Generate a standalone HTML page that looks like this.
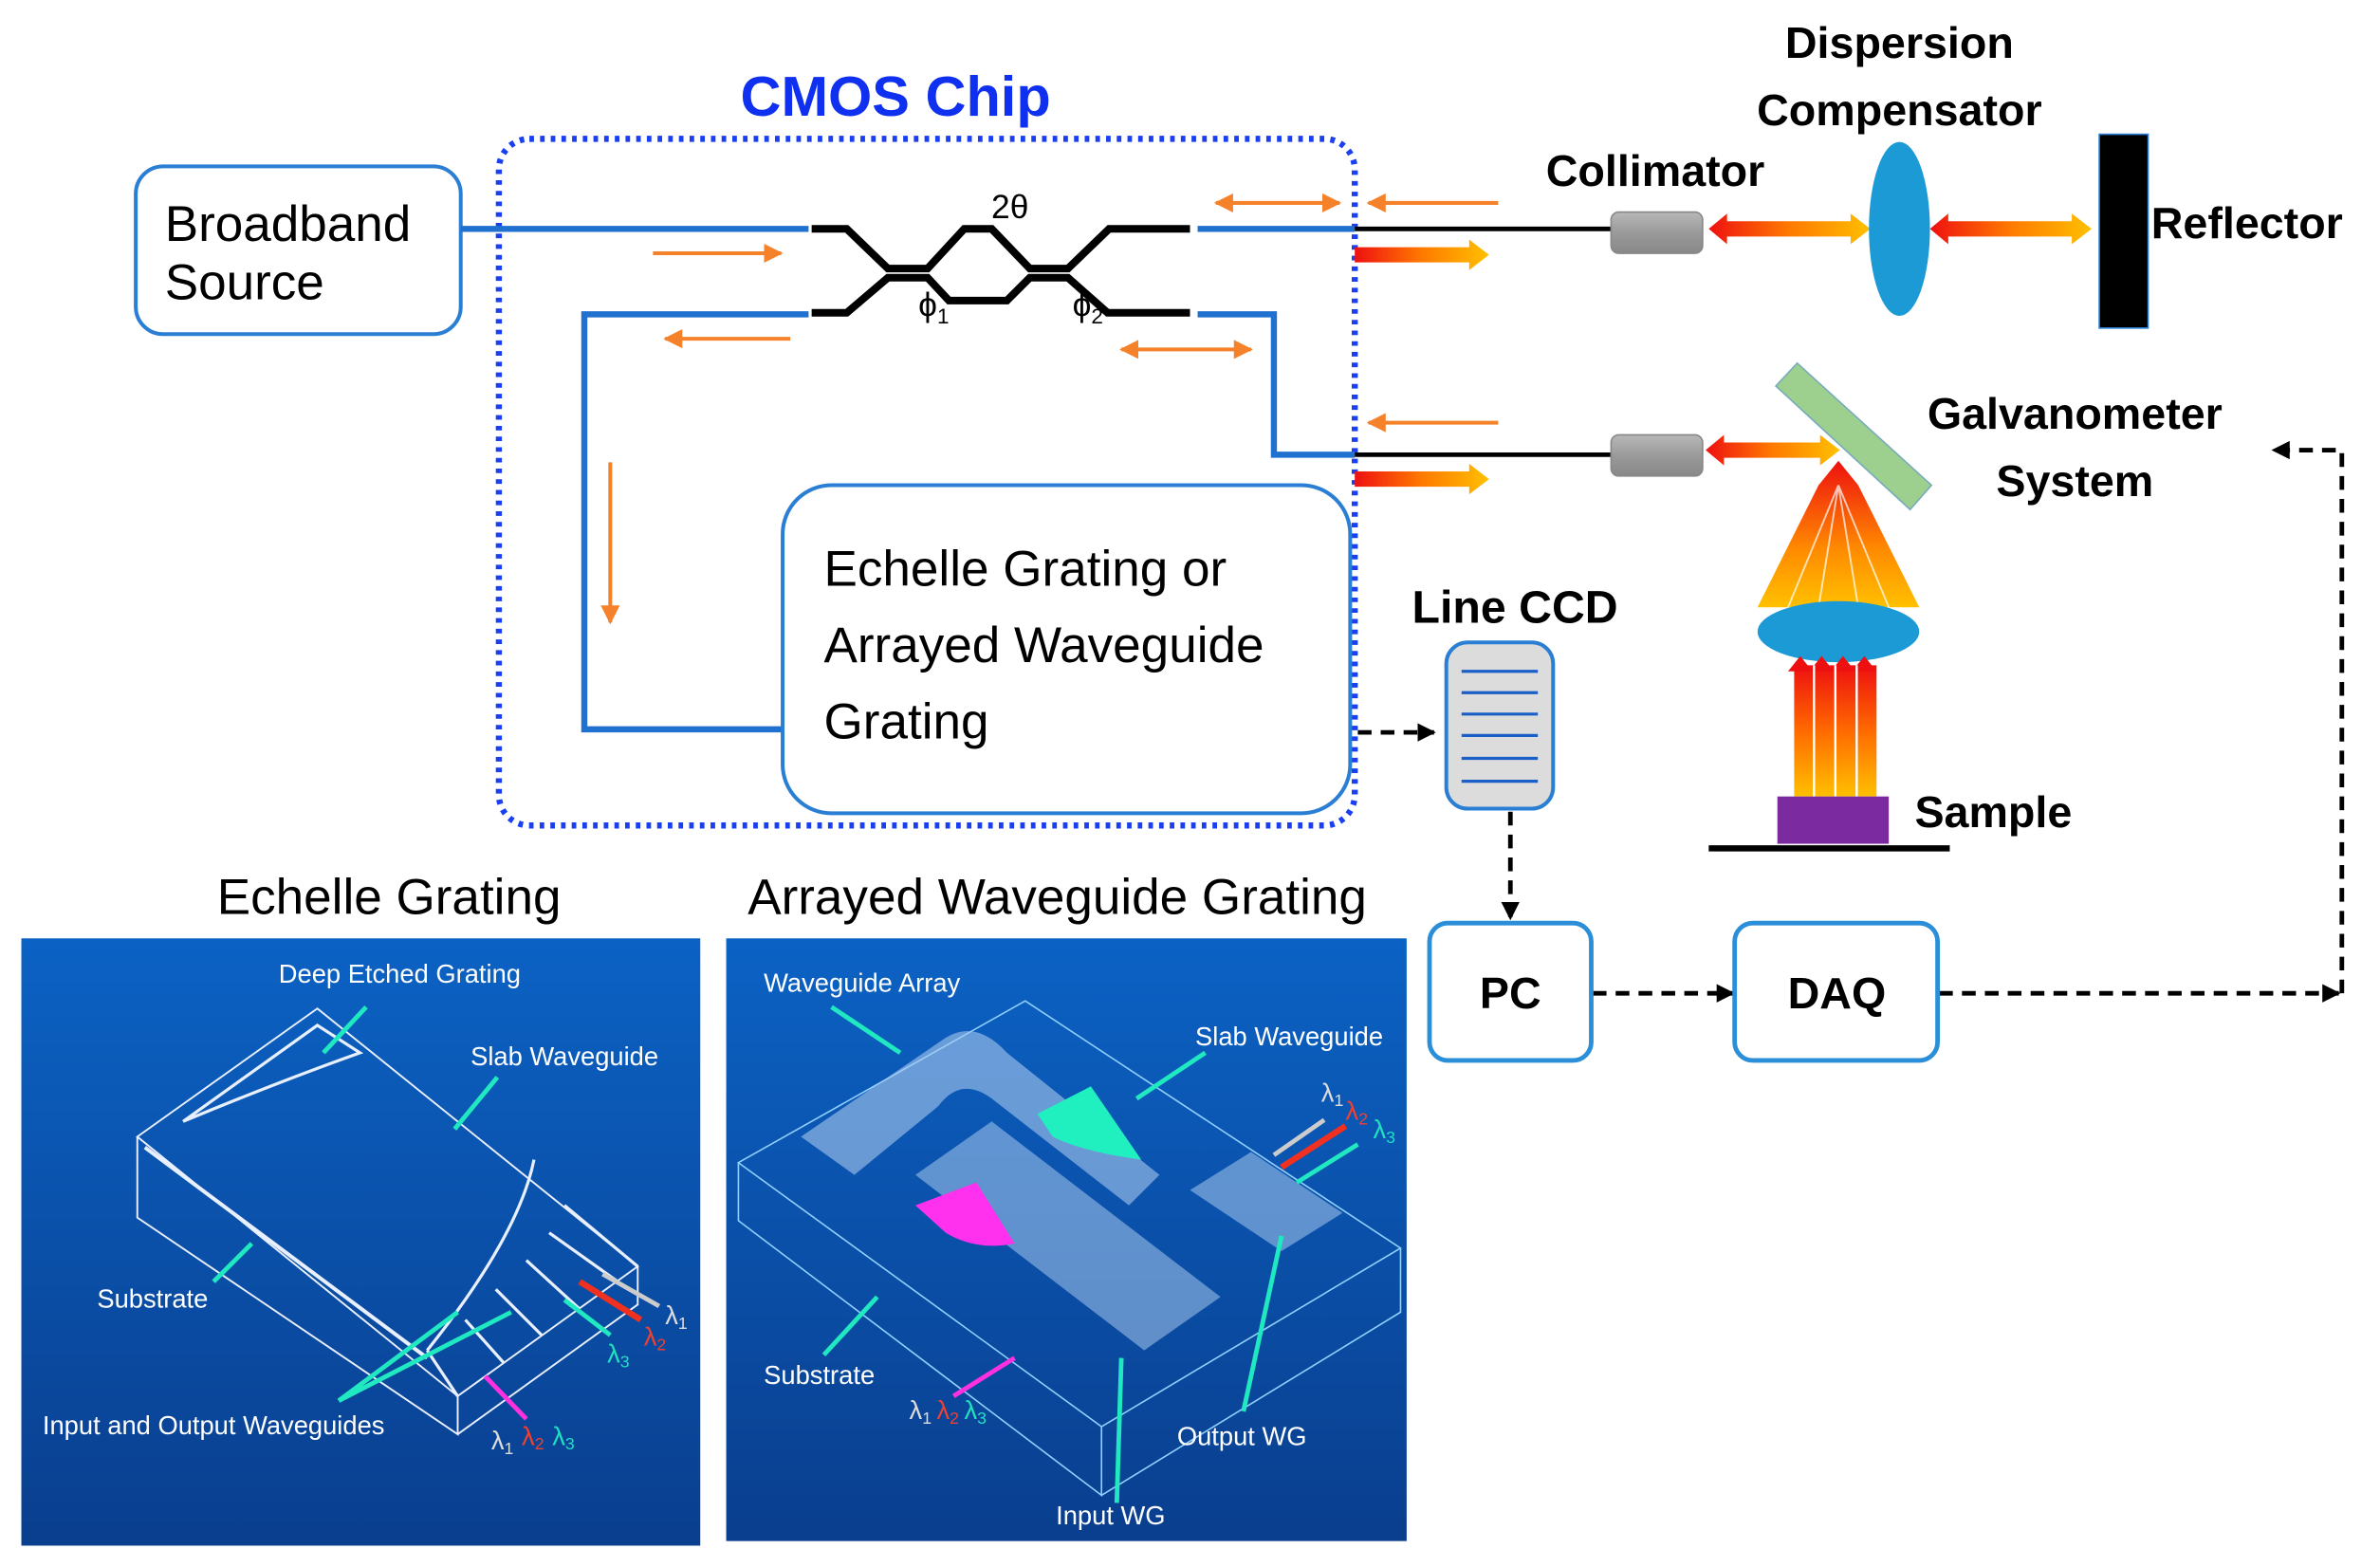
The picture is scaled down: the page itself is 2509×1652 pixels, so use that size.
<!DOCTYPE html>
<html><head><meta charset="utf-8"><style>
html,body{margin:0;padding:0;background:#fff}
svg{display:block}
text{font-family:"Liberation Sans","DejaVu Sans",sans-serif}
</style></head><body>
<svg width="2509" height="1652" viewBox="0 0 1560 1027" preserveAspectRatio="none" xmlns="http://www.w3.org/2000/svg">
<defs>
<linearGradient id="ry" x1="0" x2="1" y1="0" y2="0"><stop offset="0" stop-color="#ee1010"/><stop offset="0.5" stop-color="#ff7a00"/><stop offset="1" stop-color="#ffc000"/></linearGradient>
<linearGradient id="ryv" x1="0" x2="0" y1="0" y2="1"><stop offset="0" stop-color="#ee1010"/><stop offset="0.6" stop-color="#ff8a00"/><stop offset="1" stop-color="#ffc000"/></linearGradient>
<linearGradient id="yrv" x1="0" x2="0" y1="0" y2="1"><stop offset="0" stop-color="#ee1010"/><stop offset="0.5" stop-color="#ff6a00"/><stop offset="1" stop-color="#ffc000"/></linearGradient>
<linearGradient id="bg" x1="0" x2="0" y1="0" y2="1"><stop offset="0" stop-color="#0b62c4"/><stop offset="1" stop-color="#0a3e8e"/></linearGradient>
<linearGradient id="cyl" x1="0" x2="0" y1="0" y2="1"><stop offset="0" stop-color="#b8b8b8"/><stop offset="0.5" stop-color="#9a9a9a"/><stop offset="1" stop-color="#888"/></linearGradient>
<marker id="oa" viewBox="0 0 10 10" refX="9" refY="5" markerWidth="5" markerHeight="5" orient="auto-start-reverse"><path d="M0,0 L10,5 L0,10 Z" fill="#f5822a"/></marker>
<marker id="ka" viewBox="0 0 10 10" refX="9" refY="5" markerWidth="4" markerHeight="4" orient="auto"><path d="M0,0 L10,5 L0,10 Z" fill="#000"/></marker>
</defs>

<text x="587" y="76" font-size="37" font-weight="bold" fill="#1030f0" text-anchor="middle">CMOS Chip</text>
<rect x="327" y="91" width="561" height="450" rx="20" fill="none" stroke="#1a3ff0" stroke-width="4" stroke-dasharray="3 4"/>

<rect x="89" y="109" width="213" height="110" rx="18" fill="#fff" stroke="#2a7fd4" stroke-width="2.5"/>
<text x="108" y="158" font-size="33">Broadband</text>
<text x="108" y="196" font-size="33">Source</text>

<g stroke="#2070d0" stroke-width="4" fill="none">
<line x1="302" y1="150" x2="530" y2="150"/>
<polyline points="530,206 383,206 383,478 513,478"/>
<line x1="785" y1="150" x2="888" y2="150"/>
<polyline points="785,206 835,206 835,298 888,298"/>
</g>
<g stroke="#000" stroke-width="5" fill="none">
<path d="M532,150 H555 L582,176 H608 L632,150 H650 L675,176 H700 L727,150 H780"/>
<path d="M532,205 H555 L582,182 H608 L622,197 H660 L675,182 H700 L726,205 H780"/>
</g>
<line x1="888" y1="150" x2="1058" y2="150" stroke="#000" stroke-width="3"/>
<line x1="888" y1="298" x2="1058" y2="298" stroke="#000" stroke-width="3"/>
<text x="662" y="143" font-size="22" font-family="Liberation Serif" text-anchor="middle">2θ</text>
<text x="612" y="207" font-size="22" font-family="Liberation Serif" text-anchor="middle">ϕ<tspan font-size="14" dy="5">1</tspan></text>
<text x="713" y="207" font-size="22" font-family="Liberation Serif" text-anchor="middle">ϕ<tspan font-size="14" dy="5">2</tspan></text>

<g stroke="#f5822a" stroke-width="2.5" fill="none">
<line x1="428" y1="166" x2="512" y2="166" marker-end="url(#oa)"/>
<line x1="518" y1="222" x2="436" y2="222" marker-end="url(#oa)"/>
<line x1="400" y1="303" x2="400" y2="408" marker-end="url(#oa)"/>
<line x1="797" y1="133" x2="878" y2="133" marker-end="url(#oa)" marker-start="url(#oa)"/>
<line x1="735" y1="229" x2="820" y2="229" marker-end="url(#oa)" marker-start="url(#oa)"/>
<line x1="982" y1="133" x2="897" y2="133" marker-end="url(#oa)"/>
<line x1="982" y1="277" x2="897" y2="277" marker-end="url(#oa)"/>
</g>

<g fill="url(#ry)">
<path d="M888,162 H963 V157 L976,167 L963,177 V172 H888 Z"/>
<path d="M888,309 H963 V304 L976,314 L963,324 V319 H888 Z"/>
<path d="M1120,150 L1132,140 V145 H1213 V140 L1226,150 L1213,160 V155 H1132 V160 Z"/>
<path d="M1265,150 L1277,140 V145 H1358 V140 L1371,150 L1358,160 V155 H1277 V160 Z"/>
<path d="M1118,295 L1130,285 V290 H1193 V285 L1206,295 L1193,305 V300 H1130 V305 Z"/>
</g>

<rect x="513" y="318" width="372" height="215" rx="32" fill="#fff" stroke="#2a7fd4" stroke-width="2.5"/>
<text x="540" y="384" font-size="33">Echelle Grating or</text>
<text x="540" y="434" font-size="33">Arrayed Waveguide</text>
<text x="540" y="484" font-size="33">Grating</text>

<g stroke="#000" stroke-width="3" fill="none" stroke-dasharray="9 6">
<line x1="890" y1="480" x2="940" y2="480" marker-end="url(#ka)"/>
<line x1="990" y1="532" x2="990" y2="602" marker-end="url(#ka)"/>
<line x1="1044" y1="651" x2="1136" y2="651" marker-end="url(#ka)"/>
<line x1="1271" y1="651" x2="1533" y2="651" marker-end="url(#ka)"/>
<polyline points="1535,651 1535,295 1490,295" marker-end="url(#ka)"/>
</g>

<text x="993" y="408" font-size="30" font-weight="bold" text-anchor="middle">Line CCD</text>
<rect x="948" y="421" width="70" height="109" rx="14" fill="#dcdcdc" stroke="#2a7fd4" stroke-width="2.5"/>
<g stroke="#1a5fc8" stroke-width="2">
<line x1="958" y1="440" x2="1008" y2="440"/><line x1="958" y1="454" x2="1008" y2="454"/>
<line x1="958" y1="468" x2="1008" y2="468"/><line x1="958" y1="482" x2="1008" y2="482"/>
<line x1="958" y1="497" x2="1008" y2="497"/><line x1="958" y1="512" x2="1008" y2="512"/>
</g>

<rect x="937" y="605" width="106" height="90" rx="12" fill="#fff" stroke="#2a8fd8" stroke-width="3"/>
<text x="990" y="661" font-size="29" font-weight="bold" text-anchor="middle">PC</text>
<rect x="1137" y="605" width="133" height="90" rx="12" fill="#fff" stroke="#2a8fd8" stroke-width="3"/>
<text x="1204" y="661" font-size="29" font-weight="bold" text-anchor="middle">DAQ</text>

<rect x="1056" y="139" width="60" height="27" rx="5" fill="url(#cyl)" stroke="#888"/>
<rect x="1056" y="285" width="60" height="27" rx="5" fill="url(#cyl)" stroke="#888"/>
<ellipse cx="1245" cy="150" rx="20" ry="57" fill="#1b9ad6"/>
<rect x="1376" y="88" width="32" height="127" fill="#000" stroke="#2a7fd4" stroke-width="1"/>
<polygon points="1178,238 1266,318 1252,334 1164,253" fill="#9dd08e" stroke="#7ab"/>
<path d="M1205,302 L1192,318 L1152,398 L1258,398 L1218,318 Z" fill="url(#ryv)"/>
<g stroke="#fff" stroke-width="1.2" opacity="0.7"><line x1="1205" y1="318" x2="1172" y2="398"/><line x1="1205" y1="318" x2="1192" y2="398"/><line x1="1205" y1="318" x2="1218" y2="398"/><line x1="1205" y1="318" x2="1238" y2="398"/></g>
<ellipse cx="1205" cy="414" rx="53" ry="20" fill="#1b9ad6"/>
<path d="M1176,436 H1230 V522 H1176 Z" fill="url(#yrv)"/>
<path d="M1172,440 L1180,430 L1188,440 Z M1186,440 L1194,430 L1202,440 Z M1200,440 L1208,430 L1216,440 Z M1214,440 L1222,430 L1230,440 Z" fill="#ee1010"/>
<g stroke="#fff" stroke-width="1.5"><line x1="1189" y1="436" x2="1189" y2="522"/><line x1="1203" y1="436" x2="1203" y2="522"/><line x1="1217" y1="436" x2="1217" y2="522"/></g>
<rect x="1165" y="522" width="73" height="31" fill="#7b2aa0"/>
<line x1="1120" y1="556" x2="1278" y2="556" stroke="#000" stroke-width="4"/>

<g font-size="29" font-weight="bold">
<text x="1245" y="38" text-anchor="middle">Dispersion</text>
<text x="1245" y="82" text-anchor="middle">Compensator</text>
<text x="1085" y="122" text-anchor="middle">Collimator</text>
<text x="1410" y="156">Reflector</text>
<text x="1360" y="281" text-anchor="middle">Galvanometer</text>
<text x="1360" y="325" text-anchor="middle">System</text>
<text x="1255" y="542">Sample</text>
</g>

<text x="255" y="599" font-size="33" text-anchor="middle">Echelle Grating</text>
<text x="693" y="599" font-size="33" text-anchor="middle">Arrayed Waveguide Grating</text>

<rect x="14" y="615" width="445" height="398" fill="url(#bg)"/>
<g stroke="#e8f0ff" stroke-width="1.2" fill="none">
<polygon points="208,661 90,745 300,915 418,830"/>
<polyline points="90,745 90,798 300,940 300,915"/>
<polyline points="300,940 418,855 418,830"/>
<path d="M120,735 L208,672 L236,690 Q180,710 120,735" stroke-width="2"/>
<path d="M350,760 Q340,810 280,885" stroke-width="2"/>
<path d="M300,915 L280,885 M330,893 L305,865 M355,875 L325,845 M380,858 L345,826 M405,840 L360,808 M418,830 L370,790" stroke-width="2"/>
<line x1="95" y1="752" x2="280" y2="890" stroke-width="2.5"/>
</g>
<g font-size="17" fill="#fff" font-family="Liberation Sans Narrow,Liberation Sans,sans-serif">
<text x="262" y="644" text-anchor="middle">Deep Etched Grating</text>
<text x="370" y="698" text-anchor="middle">Slab Waveguide</text>
<text x="100" y="857" text-anchor="middle">Substrate</text>
<text x="140" y="940" text-anchor="middle">Input and Output Waveguides</text>
<text x="322" y="950" fill="#ddd">λ<tspan font-size="11" dy="3">1</tspan></text>
<text x="342" y="947" fill="#f04030">λ<tspan font-size="11" dy="3">2</tspan></text>
<text x="362" y="947" fill="#20e0c0">λ<tspan font-size="11" dy="3">3</tspan></text>
<text x="436" y="868" fill="#ddd">λ<tspan font-size="11" dy="3">1</tspan></text>
<text x="422" y="882" fill="#f04030">λ<tspan font-size="11" dy="3">2</tspan></text>
<text x="398" y="893" fill="#20e0c0">λ<tspan font-size="11" dy="3">3</tspan></text>
</g>
<g stroke="#20e8c0" stroke-width="3">
<line x1="240" y1="660" x2="212" y2="690"/><line x1="326" y1="706" x2="298" y2="740"/>
<line x1="140" y1="840" x2="165" y2="815"/>
<line x1="222" y1="918" x2="300" y2="860"/><line x1="222" y1="918" x2="335" y2="860"/>
<line x1="370" y1="852" x2="400" y2="875"/>
</g>
<line x1="380" y1="840" x2="420" y2="865" stroke="#f03020" stroke-width="4"/>
<line x1="395" y1="835" x2="432" y2="856" stroke="#ccc" stroke-width="3"/>
<line x1="345" y1="930" x2="318" y2="902" stroke="#ff30e0" stroke-width="3"/>

<rect x="476" y="615" width="446" height="395" fill="url(#bg)"/>
<g stroke="#8fd0ff" stroke-width="1" fill="none">
<polygon points="672,656 484,762 722,935 918,818"/>
<polyline points="484,762 484,800 722,980 722,935"/>
<polyline points="722,980 918,860 918,818"/>
</g>
<path d="M525,745 L620,680 Q640,668 660,690 L760,770 L740,790 L650,720 Q630,705 615,725 L560,770 Z" fill="#a8c8ec" opacity="0.6"/>
<path d="M600,770 L650,735 L800,850 L750,885 Z" fill="#a8c8ec" opacity="0.55"/>
<path d="M780,780 L820,755 L880,795 L840,820 Z" fill="#a8c8ec" opacity="0.55"/>
<path d="M600,790 L640,775 L665,815 Q640,820 620,808 Z" fill="#ff30ee"/>
<path d="M680,730 L715,712 L748,760 Q710,755 690,745 Z" fill="#20f0c0"/>
<g font-size="17" fill="#fff" font-family="Liberation Sans Narrow,Liberation Sans,sans-serif">
<text x="565" y="650" text-anchor="middle">Waveguide Array</text>
<text x="845" y="685" text-anchor="middle">Slab Waveguide</text>
<text x="537" y="907" text-anchor="middle">Substrate</text>
<text x="814" y="947" text-anchor="middle">Output WG</text>
<text x="728" y="999" text-anchor="middle">Input WG</text>
<text x="596" y="930" fill="#ddd">λ<tspan font-size="11" dy="3">1</tspan></text>
<text x="614" y="930" fill="#f04030">λ<tspan font-size="11" dy="3">2</tspan></text>
<text x="632" y="930" fill="#20e0c0">λ<tspan font-size="11" dy="3">3</tspan></text>
<text x="866" y="722" fill="#ddd">λ<tspan font-size="11" dy="3">1</tspan></text>
<text x="882" y="734" fill="#f04030">λ<tspan font-size="11" dy="3">2</tspan></text>
<text x="900" y="746" fill="#20e0c0">λ<tspan font-size="11" dy="3">3</tspan></text>
</g>
<g stroke="#20e8c0" stroke-width="3">
<line x1="545" y1="660" x2="590" y2="690"/><line x1="790" y1="690" x2="745" y2="720"/>
<line x1="540" y1="888" x2="575" y2="850"/><line x1="815" y1="925" x2="840" y2="810"/>
<line x1="732" y1="985" x2="735" y2="890"/><line x1="850" y1="775" x2="890" y2="750"/>
</g>
<line x1="840" y1="765" x2="882" y2="738" stroke="#f03020" stroke-width="4"/>
<line x1="835" y1="757" x2="868" y2="734" stroke="#ccc" stroke-width="3"/>
<line x1="625" y1="915" x2="665" y2="890" stroke="#ff30e0" stroke-width="3"/>
</svg>
</body></html>
